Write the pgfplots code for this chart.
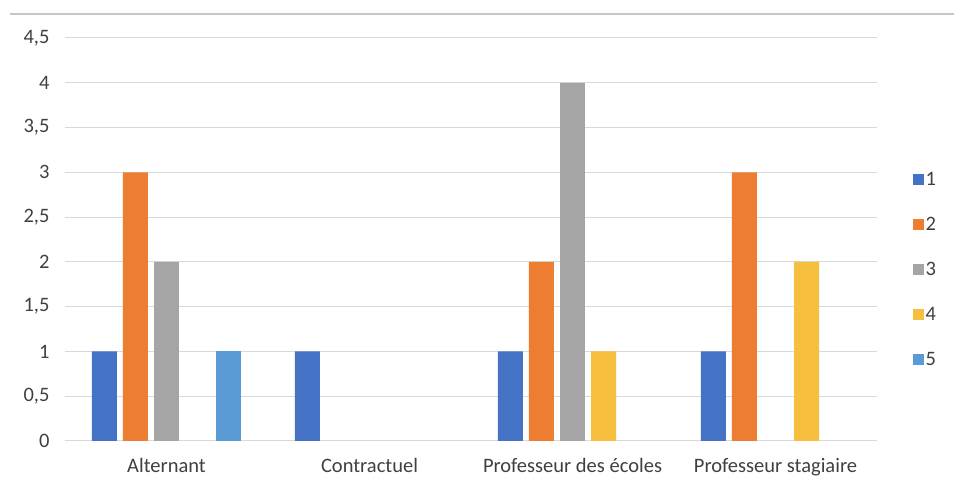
\documentclass[border=0pt]{standalone}
\usepackage{fontspec}
\setmainfont{Carlito}
\usepackage{pgfplots}
\pgfplotsset{compat=1.18}
\definecolor{c1}{HTML}{4472C4}
\definecolor{c2}{HTML}{ED7D31}
\definecolor{c3}{HTML}{A5A5A5}
\definecolor{c4}{HTML}{F7BF3E}
\definecolor{c5}{HTML}{5B9BD5}
\definecolor{txt}{HTML}{404040}
\definecolor{grd}{HTML}{D9D9D9}
\begin{document}
\begin{tikzpicture}[x=1pt,y=1pt]
\useasboundingbox[fill=white] (0,0) rectangle (954,489);
\draw[line width=1.5pt, color=grd!80!gray] (10,475) -- (954,475);
\begin{axis}[
  at={(65pt,48pt)}, anchor=south west, scale only axis,
  width=812pt, height=403pt,
  xmin=-0.5, xmax=3.5, ymin=0, ymax=4.5,
  ybar, bar width=0.123,
  axis x line*=bottom, axis y line*=left,
  y axis line style={draw=none},
  x axis line style={grd, line width=1pt, -},
  major tick length=0pt,
  ymajorgrids, grid style={grd, line width=1pt},
  xtick={0,1,2,3},
  xticklabels={Alternant, Contractuel, Professeur des écoles, Professeur stagiaire},
  ytick={0,0.5,1,1.5,2,2.5,3,3.5,4,4.5},
  yticklabels={0,{0,5},1,{1,5},2,{2,5},3,{3,5},4,{4,5}},
  tick label style={font=\fontsize{20.5}{24}\selectfont, text=txt},
  yticklabel style={xshift=-12pt},
  xticklabel style={yshift=-14pt},
  legend style={at={(1.04,0.425)}, anchor=west, draw=none, fill=none,
    font=\fontsize{20.5}{24}\selectfont, text=txt, row sep=26.2pt},
  legend cell align=left,
  legend image code/.code={\fill[#1] (0pt,-5.5pt) rectangle (11pt,5.5pt);},
]
\addplot[fill=c1, draw=none, bar shift=-0.306] coordinates {(0,1) (1,1) (2,1) (3,1)};
\addplot[fill=c2, draw=none, bar shift=-0.153] coordinates {(0,3) (2,2) (3,3)};
\addplot[fill=c3, draw=none, bar shift=0] coordinates {(0,2) (2,4)};
\addplot[fill=c4, draw=none, bar shift=0.153] coordinates {(2,1) (3,2)};
\addplot[fill=c5, draw=none, bar shift=0.306] coordinates {(0,1)};
\legend{1,2,3,4,5}
\end{axis}
\end{tikzpicture}
\end{document}
